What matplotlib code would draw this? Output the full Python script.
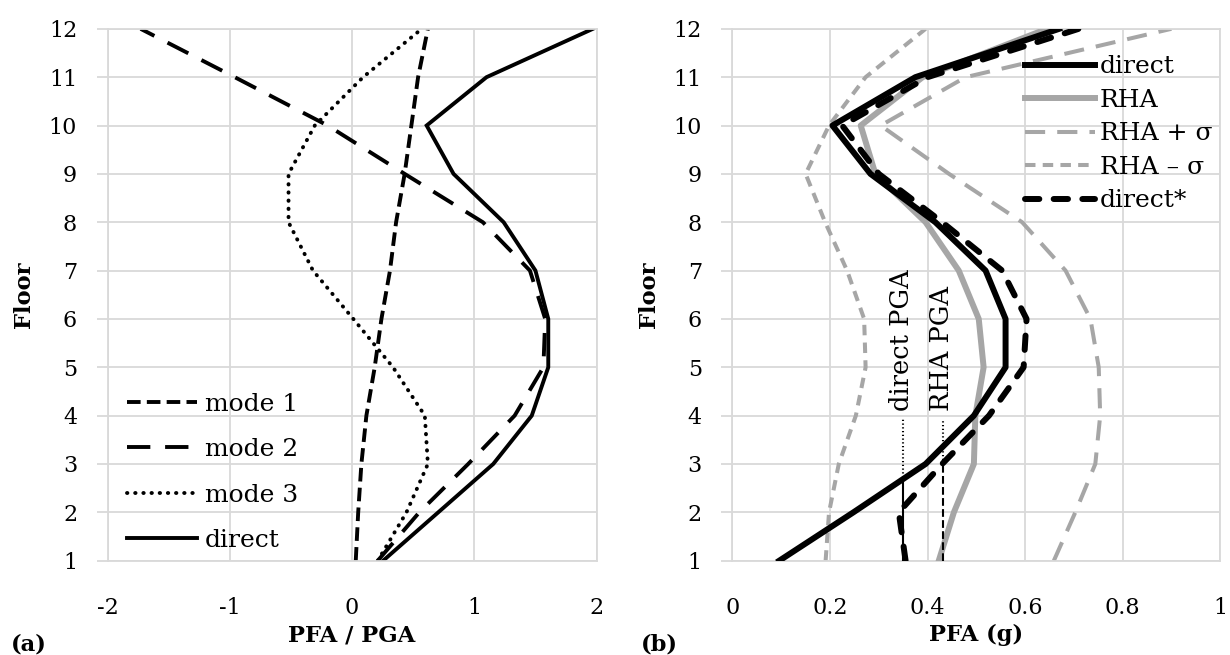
import matplotlib
matplotlib.use("Agg")
import matplotlib.pyplot as plt

plt.rcParams["font.family"] = ["DejaVu Serif"]

floors = list(range(1, 13))

# panel (a): PFA / PGA
mode1 = [0.03, 0.05, 0.076, 0.117, 0.185, 0.24, 0.31, 0.36, 0.43, 0.485, 0.54, 0.62]
mode2 = [0.21, 0.55, 0.95, 1.33, 1.565, 1.58, 1.455, 1.07, 0.43, -0.2, -0.96, -1.73]
mode3 = [0.21, 0.445, 0.62, 0.595, 0.335, 0.01, -0.32, -0.52, -0.52, -0.305, 0.09, 0.57]
direct_a = [0.254, 0.705, 1.155, 1.47, 1.605, 1.605, 1.50, 1.24, 0.83, 0.61, 1.10, 1.97]

# panel (b): PFA (g)
direct_b = [0.096, 0.248, 0.396, 0.495, 0.56, 0.56, 0.519, 0.416, 0.283, 0.205, 0.375, 0.67]
rha = [0.423, 0.454, 0.495, 0.498, 0.515, 0.505, 0.464, 0.396, 0.293, 0.263, 0.39, 0.645]
rha_plus = [0.659, 0.703, 0.744, 0.754, 0.751, 0.734, 0.683, 0.594, 0.444, 0.304, 0.478, 0.90]
rha_minus = [0.191, 0.198, 0.218, 0.253, 0.273, 0.27, 0.235, 0.19, 0.15, 0.198, 0.273, 0.396]
direct_star = [0.355, 0.341, 0.43, 0.526, 0.597, 0.603, 0.553, 0.43, 0.30, 0.225, 0.40, 0.71]

# PGA markers: value, floor where the solid/dashed part ends, top floor
pga_labels = ["direct PGA", "RHA PGA"]
pga_values = [0.35, 0.432]
pga_split = [2.65, 3.08]
pga_top = [3.92, 3.92]

grid_c = "#d9d9d9"
gray = "#a6a6a6"
tick_fs = 16
lab_font = dict(fontsize=16.3, fontweight="bold")


def style_axes(ax, xlim, xticks, xlabel):
    ax.set_xlim(*xlim)
    ax.set_ylim(1, 12)
    ax.set_xticks(xticks)
    ax.set_yticks(floors)
    ax.grid(True, color=grid_c, lw=1.3)
    ax.set_axisbelow(True)
    for s in ax.spines.values():
        s.set_color(grid_c)
        s.set_linewidth(1.3)
    ax.tick_params(axis="x", length=0, pad=26, labelsize=tick_fs)
    ax.tick_params(axis="y", length=8, width=1.3, color=grid_c, pad=14, labelsize=tick_fs)
    ax.set_xlabel(xlabel, labelpad=4, **lab_font)
    ax.set_ylabel("Floor", labelpad=10, **lab_font)


fig = plt.figure(figsize=(12.3, 6.55), dpi=100)
ax1 = fig.add_axes([0.0875, 0.144, 0.3975, 0.812])
ax2 = fig.add_axes([0.5955, 0.144, 0.3965, 0.812])

# ---- panel (a)
k = dict(color="black", lw=2.8)
ax1.plot(mode1, floors, dashes=(3.5, 1.6), label="mode 1", **k)
ax1.plot(mode2, floors, dashes=(6, 3.8), label="mode 2", **k)
ax1.plot(mode3, floors, dashes=(0.1, 2.0), dash_capstyle="round", label="mode 3", **k)
ax1.plot(direct_a, floors, solid_joinstyle="miter", label="direct", **k)
style_axes(ax1, (-2, 2), [-2, -1, 0, 1, 2], "PFA / PGA")
ax1.set_xticklabels(["-2", "-1", "0", "1", "2"])
ax1.legend(loc="lower left", bbox_to_anchor=(0.04, 0.016), frameon=False, fontsize=18,
           handlelength=2.8, handletextpad=0.3, labelspacing=0.9, borderaxespad=0.0,
           borderpad=0.0)

# ---- panel (b)
ax2.plot(direct_b, floors, color="black", lw=4.3, label="direct", zorder=4)
ax2.plot(rha, floors, color=gray, lw=4.3, label="RHA", zorder=3)
ax2.plot(rha_plus, floors, color=gray, lw=2.9, dashes=(5, 3), label="RHA + σ", zorder=2)
ax2.plot(rha_minus, floors, color=gray, lw=2.9, dashes=(2.6, 1.8), label="RHA \u2013 σ", zorder=2)
ax2.plot(direct_star, floors, color="black", lw=4.3, dashes=(2.4, 2.4), dash_capstyle="round",
         label="direct*", zorder=5)

for lab, v, ys, yt, ls in zip(pga_labels, pga_values, pga_split, pga_top, ["-", "--"]):
    ax2.plot([v, v], [1, ys], color="black", lw=1.5, linestyle=ls, zorder=3)
    ax2.plot([v, v], [ys, yt], color="black", lw=1.5, dashes=(0.6, 1.2), zorder=3)
    ax2.text(v - 0.003, yt + 0.18, lab, rotation=90, ha="center", va="bottom", fontsize=18.5)

style_axes(ax2, (0, 1), [0, 0.2, 0.4, 0.6, 0.8, 1], "PFA (g)")
ax2.set_xticklabels(["0", "0.2", "0.4", "0.6", "0.8", "1"])
ax2.legend(loc="upper left", bbox_to_anchor=(0.6, 0.95), frameon=False, fontsize=18,
           handlelength=2.8, handletextpad=0.2, labelspacing=0.42, borderaxespad=0.0,
           borderpad=0.0)

fig.text(0.009, 0.0, "(a)", fontsize=16.3, fontweight="bold", va="bottom")
fig.text(0.521, 0.0, "(b)", fontsize=16.3, fontweight="bold", va="bottom")

fig.savefig("out.png", dpi=100)
